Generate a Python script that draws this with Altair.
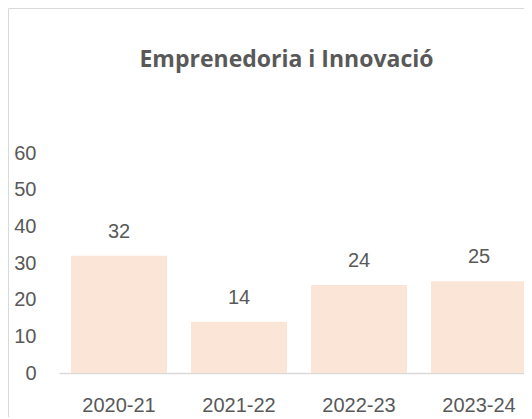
import altair as alt
import pandas as pd

years = ["2020-21", "2021-22", "2022-23", "2023-24"]
values = [32, 14, 24, 25]
y_ticks = [0, 10, 20, 30, 40, 50, 60]

df = pd.DataFrame({"year": years, "value": values})

gray = "#595959"
bar_color = "#FBE5D6"

base = alt.Chart(df)

x_enc = alt.X(
    "year:N",
    sort=years,
    scale=alt.Scale(paddingInner=0.2, paddingOuter=0.1, range=[0, 480]),
    axis=alt.Axis(
        title=None, labelAngle=0, ticks=False, domainColor="#d9d9d9", domainWidth=1.5,
        labelFont="Liberation Sans", labelFontSize=20, labelColor=gray, labelPadding=22,
    ),
)
y_enc = alt.Y(
    "value:Q",
    scale=alt.Scale(domain=[0, 60], nice=False),
    axis=alt.Axis(
        title=None, values=y_ticks, tickCount=7, grid=False, domain=False, ticks=False,
        labelOverlap=False,
        labelFont="Liberation Sans", labelFontSize=20, labelColor=gray, labelPadding=23,
    ),
)

bars = base.mark_bar(color=bar_color).encode(x=x_enc, y=y_enc)
labels = base.mark_text(
    font="Liberation Sans", fontSize=20, color=gray, baseline="alphabetic", dy=-18
).encode(x=x_enc, y=y_enc, text="value:Q")

border = alt.Chart(pd.DataFrame({"a": [0]})).mark_rect(
    fill=None, stroke="#d9d9d9", strokeWidth=1
).encode(
    x=alt.value(-50.5), y=alt.value(-144.5), x2=alt.value(700), y2=alt.value(600)
)

chart = alt.layer(border, bars, labels).properties(
    width=465,
    height=220,
    padding={"left": 51, "top": 145, "right": 0, "bottom": 44},
    autosize=alt.AutoSizeParams(type="none"),
    title=alt.TitleParams(
        "Emprenedoria i Innovació", font="Open Sans", fontSize=23, fontWeight="bold",
        color=gray, anchor="middle", dx=-5, offset=-82, baseline="alphabetic",
    ),
).configure_view(stroke=None)

chart.save("out.html", embed_options={"renderer": "svg", "actions": False})
